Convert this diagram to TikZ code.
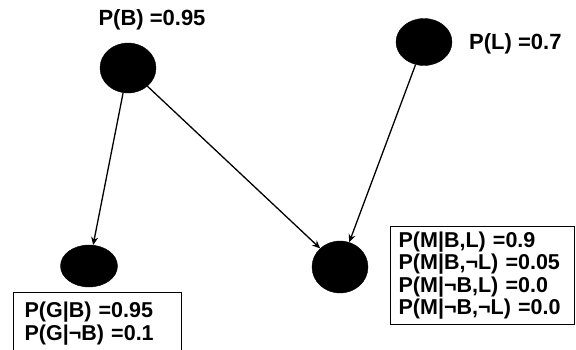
\documentclass[tikz,border=0pt]{standalone}
\usepackage{fontspec}
\setmainfont{Liberation Sans}
\usetikzlibrary{arrows.meta,shapes.geometric}
\begin{document}
\begin{tikzpicture}[x=1pt,y=-1pt,
  var/.style={ellipse, fill=black, draw=black, inner sep=0pt},
  lbl/.style={font=\bfseries\fontsize{22}{23}\selectfont, inner sep=0pt},
  cpt/.style={draw, line width=1.2pt, font=\bfseries\fontsize{21.5}{22.5}\selectfont, align=left, inner ysep=5pt},
  edge/.style={line width=1.3pt, -{Stealth[length=8pt,width=7pt]}}]
\useasboundingbox (0,0) rectangle (576,349);
\node[var, minimum width=56pt, minimum height=50pt] (B) at (128,68) {};
\node[var, minimum width=56pt, minimum height=47pt] (L) at (424,42) {};
\node[var, minimum width=57pt, minimum height=42pt] (G) at (89,266) {};
\node[var, minimum width=56pt, minimum height=52pt] (M) at (340,267) {};
\node[lbl] (pb) at (152,20) {P(B) =0.95};
\node[lbl, anchor=west] (pl) at (469,44) {P(L) =0.7};
\node[cpt, anchor=north west, inner xsep=11pt, text width=146pt, minimum height=62pt] (cg) at (13,292) {P(G|B) =0.95\\P(G|¬B) =0.1};
\node[cpt, anchor=north west, inner xsep=8pt, text width=168pt] (cm) at (390,226) {P(M|B,L) =0.9\\P(M|B,¬L) =0.05\\P(M|¬B,L) =0.0\\P(M|¬B,¬L) =0.0};
\draw[edge] (B) -- (G);
\draw[edge] (B) -- (M);
\draw[edge] (L) -- (M);
\end{tikzpicture}
\end{document}
